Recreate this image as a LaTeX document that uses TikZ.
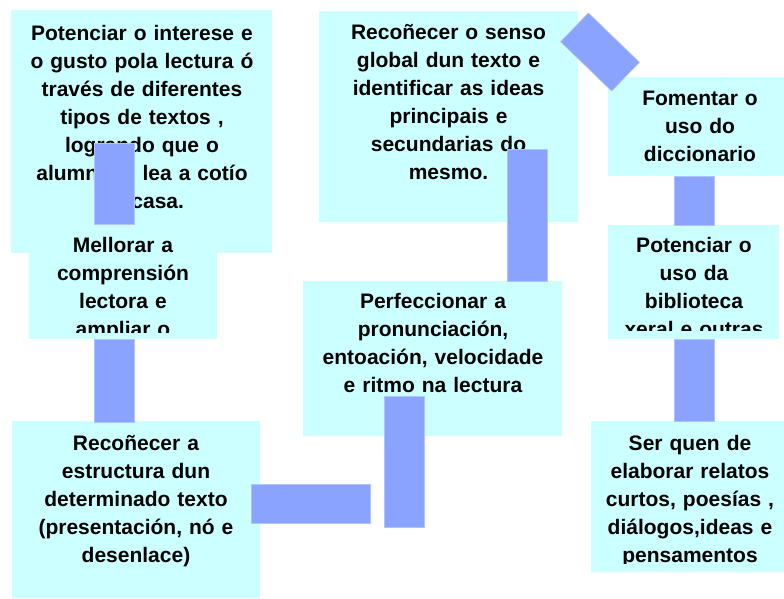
\documentclass[tikz,border=0pt]{standalone}
\usepackage{fontspec}
\setmainfont{Liberation Sans}
\definecolor{boxfill}{HTML}{CCFFFF}
\definecolor{barfill}{RGB}{137,163,255}
\definecolor{baredge}{RGB}{175,195,255}
\tikzset{
  box/.style={rectangle, fill=boxfill, draw=none, inner sep=0pt, outer sep=0pt, anchor=north west},
  bar/.style={rectangle, fill=barfill, draw=baredge, line width=0.6pt, inner sep=0pt, outer sep=0pt, anchor=north west},
  txt/.style={anchor=base, inner sep=0pt, outer sep=0pt, text width=320pt, align=center,
    font=\fontsize{21}{28}\selectfont\bfseries}
}
\begin{document}
\begin{tikzpicture}[x=1pt,y=-1pt]
\useasboundingbox (0,0) rectangle (784,598);
\fill[white] (0,0) rectangle (784,598);
% boxes
\node[box, minimum width=261pt, minimum height=243pt] (b1) at (11,10) {};
\node[txt] (t1) at (142,40) {Potenciar o interese e\\o gusto pola lectura ó\\través de diferentes\\tipos de textos ,\\logrando que o\\alumnado lea a cotío\\na casa.};
\node[box, minimum width=188pt, minimum height=117pt] (b2) at (29,222) {};
\begin{scope}
\clip (29,222) rectangle (217,332);
\node[txt] (t2) at (123,252) {Mellorar a\\comprensión\\lectora e\\ampliar o};
\end{scope}
\node[box, minimum width=248pt, minimum height=177pt] (b3) at (12,421) {};
\node[txt] (t3) at (136,450) {Recoñecer a\\estructura dun\\determinado texto\\(presentación, nó e\\desenlace)};
\node[box, minimum width=259pt, minimum height=155pt] (b4) at (303,281) {};
\node[txt] (t4) at (433,308) {Perfeccionar a\\pronunciación,\\entoación, velocidade\\e ritmo na lectura};
\node[box, minimum width=259pt, minimum height=211pt] (b5) at (319,11) {};
\node[txt] (t5) at (448.5,39) {Recoñecer o senso\\global dun texto e\\identificar as ideas\\principais e\\secundarias do\\mesmo.};
\node[box, minimum width=176pt, minimum height=99pt] (b6) at (608,77) {};
\node[txt] (t6) at (700,105) {Fomentar o\\uso do\\diccionario};
\node[box, minimum width=171pt, minimum height=114pt] (b7) at (608,225) {};
\begin{scope}
\clip (608,225) rectangle (779,330);
\node[txt] (t7) at (694,252) {Potenciar o\\uso da\\biblioteca\\xeral e outras};
\end{scope}
\node[box, minimum width=193pt, minimum height=151pt] (b8) at (591,421) {};
\begin{scope}
\clip (591,421) rectangle (784,563);
\node[txt] (t8) at (690,450) {Ser quen de\\elaborar relatos\\curtos, poesías ,\\diálogos,ideas e\\pensamentos};
\end{scope}
% bars
\node[bar, minimum width=40pt, minimum height=81pt] (barA) at (94,143) {};
\node[bar, minimum width=40pt, minimum height=83pt] (barB) at (94,339) {};
\node[bar, minimum width=119pt, minimum height=39pt] (barC) at (251,484) {};
\node[bar, minimum width=40pt, minimum height=131pt] (barD) at (384,396) {};
\node[bar, minimum width=40pt, minimum height=132pt] (barE) at (507,149) {};
\node[bar, anchor=center, minimum width=71pt, minimum height=40pt, rotate=-44] (barF) at (600,52) {};
\node[bar, minimum width=40pt, minimum height=49pt] (barG) at (674,176) {};
\node[bar, minimum width=40pt, minimum height=82pt] (barH) at (674,339) {};
\end{tikzpicture}
\end{document}
